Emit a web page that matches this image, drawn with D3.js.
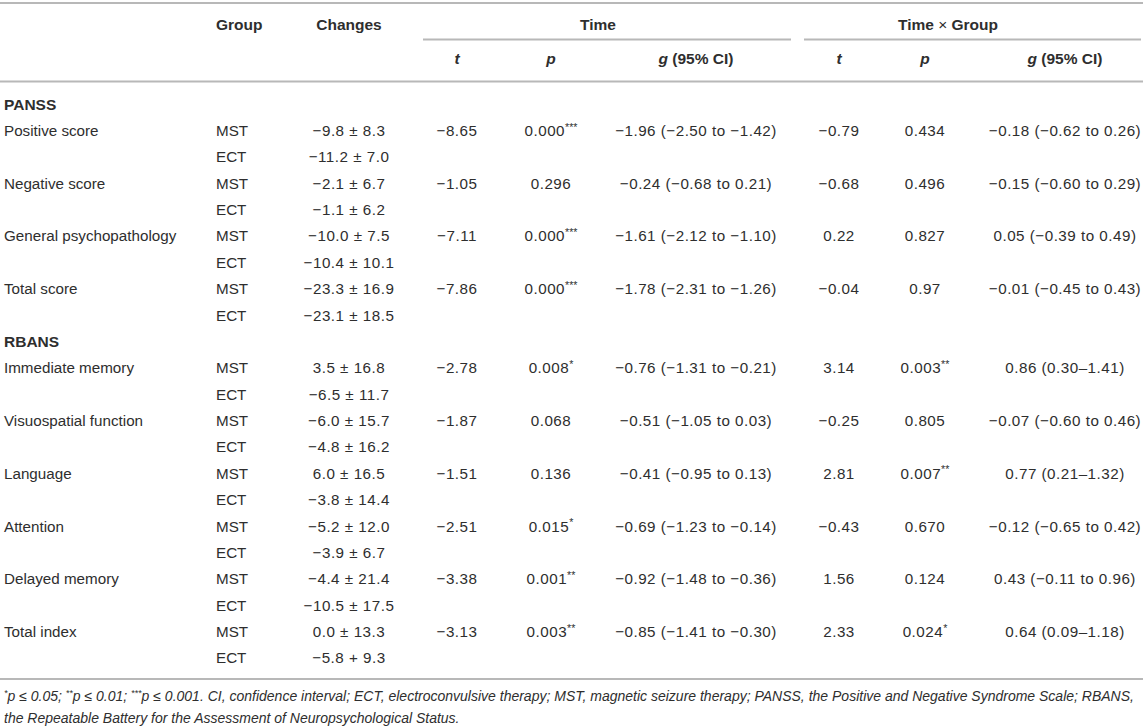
<!DOCTYPE html>
<html>
<head>
<meta charset="utf-8">
<script src="https://cdn.jsdelivr.net/npm/d3@7.9.0/dist/d3.min.js"></script>
<style>
  html, body { margin: 0; padding: 0; background: #fff; }
  svg { display: block; font-family: "Liberation Sans", Arial, Helvetica, sans-serif; }
</style>
</head>
<body>
<div id="table"></div>
<script>
// Table contents
const sections = ["PANSS", "RBANS"];
const measuresPANSS = ["Positive score", "Negative score", "General psychopathology", "Total score"];
const measuresRBANS = ["Immediate memory", "Visuospatial function", "Language", "Attention", "Delayed memory", "Total index"];
const groups = ["MST", "ECT"];

const changesMST = ["−9.8 ± 8.3", "−2.1 ± 6.7", "−10.0 ± 7.5", "−23.3 ± 16.9",
  "3.5 ± 16.8", "−6.0 ± 15.7", "6.0 ± 16.5", "−5.2 ± 12.0", "−4.4 ± 21.4", "0.0 ± 13.3"];
const changesECT = ["−11.2 ± 7.0", "−1.1 ± 6.2", "−10.4 ± 10.1", "−23.1 ± 18.5",
  "−6.5 ± 11.7", "−4.8 ± 16.2", "−3.8 ± 14.4", "−3.9 ± 6.7", "−10.5 ± 17.5", "−5.8 + 9.3"];

const timeT = ["−8.65", "−1.05", "−7.11", "−7.86", "−2.78", "−1.87", "−1.51", "−2.51", "−3.38", "−3.13"];
const timeP = ["0.000", "0.296", "0.000", "0.000", "0.008", "0.068", "0.136", "0.015", "0.001", "0.003"];
const timePStars = ["***", "", "***", "***", "*", "", "", "*", "**", "**"];
const timeG = ["−1.96 (−2.50 to −1.42)", "−0.24 (−0.68 to 0.21)", "−1.61 (−2.12 to −1.10)", "−1.78 (−2.31 to −1.26)",
  "−0.76 (−1.31 to −0.21)", "−0.51 (−1.05 to 0.03)", "−0.41 (−0.95 to 0.13)", "−0.69 (−1.23 to −0.14)",
  "−0.92 (−1.48 to −0.36)", "−0.85 (−1.41 to −0.30)"];

const tgT = ["−0.79", "−0.68", "0.22", "−0.04", "3.14", "−0.25", "2.81", "−0.43", "1.56", "2.33"];
const tgP = ["0.434", "0.496", "0.827", "0.97", "0.003", "0.805", "0.007", "0.670", "0.124", "0.024"];
const tgPStars = ["", "", "", "", "**", "", "**", "", "", "*"];
const tgG = ["−0.18 (−0.62 to 0.26)", "−0.15 (−0.60 to 0.29)", "0.05 (−0.39 to 0.49)", "−0.01 (−0.45 to 0.43)",
  "0.86 (0.30–1.41)", "−0.07 (−0.60 to 0.46)", "0.77 (0.21–1.32)", "−0.12 (−0.65 to 0.42)",
  "0.43 (−0.11 to 0.96)", "0.64 (0.09–1.18)"];

const footLine1 = ["*", "p ≤ 0.05; ", "**", "p ≤ 0.01; ", "***", "p ≤ 0.001. CI, confidence interval; ECT, electroconvulsive therapy; MST, magnetic seizure therapy; PANSS, the Positive and Negative Syndrome Scale; RBANS,"];
const footLine2 = "the Repeatable Battery for the Assessment of Neuropsychological Status.";

// layout
const width = 1143;
const height = 727;
const textColor = "#2e2e2e";
const ruleColor = "#b8b8b8";
const fs = 15.2;
const numSpacing = 0.5;

// column positions (group is left aligned, the rest centred)
const col = {
  label: 4, group: 216, changes: 349,
  tT: 457, tP: 551, tG: 696,
  gT: 839, gP: 925, gG: 1065
};

// build row list from data
const rows = [];
let k = 0;
[measuresPANSS, measuresRBANS].forEach((list, s) => {
  rows.push({ type: "section", label: sections[s] });
  list.forEach(m => {
    rows.push({ type: "mst", label: m, i: k });
    rows.push({ type: "ect", i: k });
    k++;
  });
});

const y = d3.scaleLinear()
  .domain([0, rows.length - 1])
  .range([104, 658]);

const svg = d3.select("#table")
  .append("svg")
  .attr("width", width)
  .attr("height", height);

// rules
function rule(x1, x2, yy) {
  svg.append("line")
    .attr("x1", x1).attr("x2", x2)
    .attr("y1", yy).attr("y2", yy)
    .attr("stroke", ruleColor)
    .attr("stroke-width", 2);
}
rule(0, width, 3);
rule(423, 791, 39.5);
rule(804, 1141, 39.5);
rule(0, width, 81.5);
rule(0, width, 679);

function txt(x, yy, s, anchor, opts = {}) {
  return svg.append("text")
    .attr("x", x)
    .attr("y", yy)
    .attr("dy", "0.36em")
    .attr("text-anchor", anchor || "middle")
    .attr("fill", textColor)
    .attr("font-size", opts.size || fs)
    .attr("font-weight", opts.bold ? "bold" : null)
    .attr("font-style", opts.italic ? "italic" : null)
    .attr("letter-spacing", opts.num ? numSpacing : null)
    .text(s);
}

// header
const h1 = 24, h2 = 58;
const hs = 15.5;
txt(col.group, h1, "Group", "start", { bold: true, size: hs });
txt(col.changes, h1, "Changes", "middle", { bold: true, size: hs });
txt(598, h1, "Time", "middle", { bold: true, size: hs });
const tg = txt(948, h1, "", "middle", { bold: true, size: hs });
tg.append("tspan").text("Time ");
tg.append("tspan").attr("font-weight", "normal").text("×");
tg.append("tspan").text(" Group");

[[col.tT, col.tP, col.tG], [col.gT, col.gP, col.gG]].forEach(([a, b, c]) => {
  txt(a, h2, "t", "middle", { bold: true, italic: true, size: hs });
  txt(b, h2, "p", "middle", { bold: true, italic: true, size: hs });
  const g = txt(c, h2, "", "middle", { bold: true, size: hs });
  g.append("tspan").attr("font-style", "italic").text("g");
  g.append("tspan").text(" (95% CI)");
});

function pCell(x, yy, val, stars) {
  const t = txt(x, yy, "", "middle", { num: true });
  t.append("tspan").text(val);
  if (stars) {
    t.append("tspan")
      .attr("font-size", fs * 0.7)
      .attr("dy", "-0.5em")
      .attr("letter-spacing", 0)
      .text(stars);
  }
}

// body
rows.forEach((r, idx) => {
  const yy = y(idx);
  if (r.type === "section") {
    txt(col.label, yy, r.label, "start", { bold: true, size: hs });
    return;
  }
  if (r.type === "mst") {
    txt(col.label, yy, r.label, "start");
    txt(col.group, yy, groups[0], "start");
    txt(col.changes, yy, changesMST[r.i], "middle", { num: true });
    txt(col.tT, yy, timeT[r.i], "middle", { num: true });
    pCell(col.tP, yy, timeP[r.i], timePStars[r.i]);
    txt(col.tG, yy, timeG[r.i], "middle", { num: true });
    txt(col.gT, yy, tgT[r.i], "middle", { num: true });
    pCell(col.gP, yy, tgP[r.i], tgPStars[r.i]);
    txt(col.gG, yy, tgG[r.i], "middle", { num: true });
  } else {
    txt(col.group, yy, groups[1], "start");
    txt(col.changes, yy, changesECT[r.i], "middle", { num: true });
  }
});

// footnote
const fn = svg.append("text")
  .attr("x", 4)
  .attr("y", 701)
  .attr("fill", textColor)
  .attr("font-size", 14)
  .attr("font-style", "italic");
footLine1.forEach(s => {
  const isStar = /^\*+$/.test(s);
  fn.append("tspan")
    .attr("font-size", isStar ? 9 : null)
    .attr("baseline-shift", isStar ? "super" : null)
    .text(s);
});
svg.append("text")
  .attr("x", 4)
  .attr("y", 723)
  .attr("fill", textColor)
  .attr("font-size", 14)
  .attr("font-style", "italic")
  .text(footLine2);
</script>
</body>
</html>
